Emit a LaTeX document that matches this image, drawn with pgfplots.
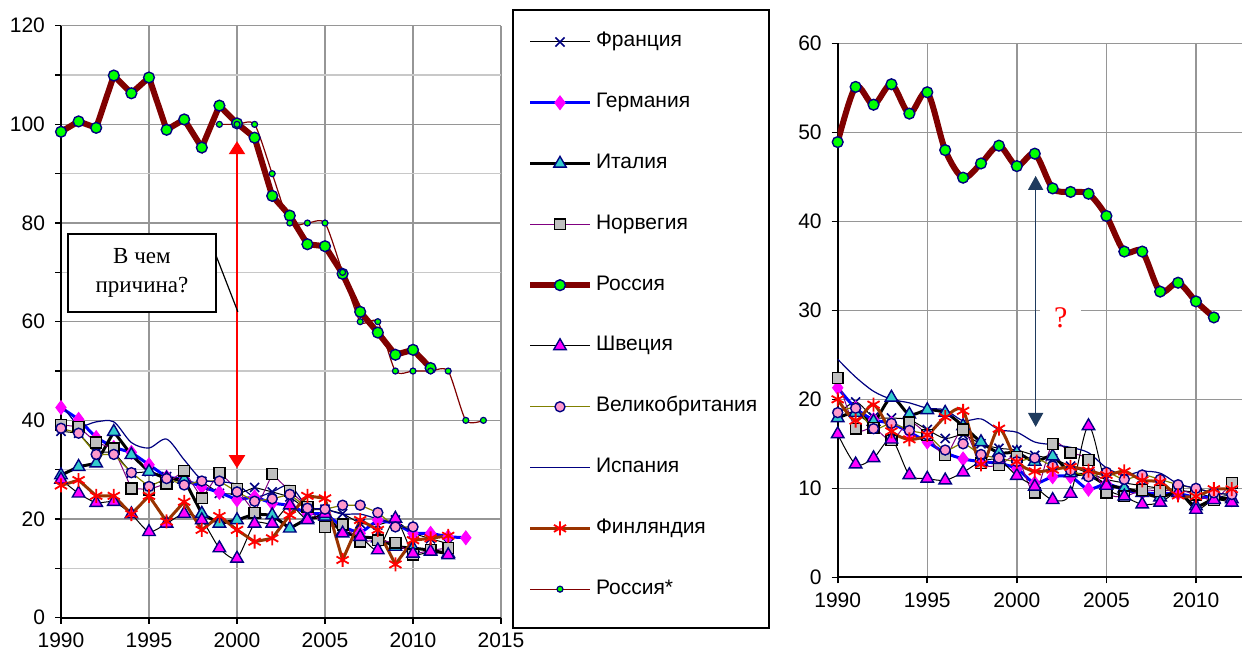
\documentclass[border=0pt]{standalone}
\usepackage{fontspec}
\setmainfont{Liberation Sans}
\newfontfamily\serifru{Liberation Serif}
\usepackage{pgfplots}
\usepackage{pgfplotstable}
\pgfplotsset{compat=1.18}
\usetikzlibrary{arrows.meta}

\definecolor{exnavy}{HTML}{000080}
\definecolor{exblue}{HTML}{0000FF}
\definecolor{exmag}{HTML}{FF00FF}
\definecolor{exteal}{HTML}{33CCCC}
\definecolor{exgray}{HTML}{C0C0C0}
\definecolor{expurple}{HTML}{800080}
\definecolor{exdred}{HTML}{800000}
\definecolor{exgreen}{HTML}{00FF00}
\definecolor{exolive}{HTML}{808000}
\definecolor{expink}{HTML}{FF99CC}
\definecolor{exbrown}{HTML}{993300}
\definecolor{exred}{HTML}{FF0000}
\definecolor{gridgray}{HTML}{969696}
\definecolor{gridlight}{HTML}{C8C8C8}
\definecolor{arrowblue}{HTML}{1F3B5E}

\pgfplotstableread{
year FR DE IT NO RU SE UK ES FI RUS
1990 37.8 42.6 28.9 39.1 98.5 28.0 38.4 43.5 26.8 nan
1991 37.4 40.2 30.6 38.7 100.6 25.2 37.4 39.0 27.9 nan
1992 33.5 36.5 31.3 35.5 99.3 23.3 33.1 39.7 24.7 nan
1993 33.6 34.5 37.7 34.3 109.9 23.5 33.1 39.7 24.7 nan
1994 29.3 33.5 33.0 26.2 106.3 21.0 29.4 35.5 21.0 nan
1995 29.6 31.0 29.6 26.0 109.5 17.4 26.6 34.4 24.7 nan
1996 28.6 28.5 28.2 27.2 98.9 19.1 28.2 36.2 19.5 nan
1997 27.2 28.0 28.0 29.8 101.0 21.1 26.9 32.0 23.5 nan
1998 27.6 26.5 21.1 24.2 95.3 19.8 27.7 28.0 17.8 nan
1999 25.2 25.4 19.1 29.4 103.8 14.1 27.7 27.6 20.6 100
2000 25.0 23.9 19.8 26.1 100.2 12.0 25.5 27.0 17.8 100
2001 26.4 24.5 21.0 21.3 97.3 19.1 23.6 24.5 15.4 100
2002 25.5 23.2 20.8 29.1 85.5 19.1 24.1 25.5 16.1 90
2003 24.5 22.8 18.1 25.7 81.5 22.8 25.0 26.8 20.8 80
2004 21.8 21.1 20.1 22.5 75.7 19.8 22.2 22.5 24.7 80
2005 22.0 21.1 20.5 18.4 75.3 21.1 22.0 22.0 24.2 80
2006 21.1 18.4 17.4 18.9 69.7 17.1 22.8 21.0 11.7 70
2007 19.1 17.1 16.4 15.4 62.0 16.4 22.8 21.0 19.8 60
2008 18.8 19.8 16.1 15.7 57.8 13.7 21.3 20.0 17.8 60
2009 19.8 19.1 14.4 15.2 53.3 20.1 18.4 19.0 10.8 50
2010 17.1 17.1 14.1 12.8 54.3 13.0 18.4 17.5 15.7 50
2011 16.0 17.1 13.7 13.7 50.6 13.4 nan nan 16.1 50
2012 15.0 16.4 13.0 14.1 nan 12.7 nan nan 16.6 50
2013 nan 16.2 nan nan nan nan nan nan nan 40
2014 nan nan nan nan nan nan nan nan nan 40
}\tabL

\pgfplotstableread{
year FR DE IT NO RU SE UK ES FI
1990 18.3 21.3 17.9 22.4 48.9 16.1 18.5 24.5 20.0
1991 19.7 19.0 18.5 16.7 55.1 12.7 19.0 22.5 17.6
1992 18.0 17.7 17.5 16.8 53.1 13.4 16.7 20.9 19.4
1993 17.9 17.3 20.2 15.4 55.4 15.5 17.3 20.0 16.4
1994 17.7 16.3 18.3 17.4 52.1 11.5 16.5 19.6 15.5
1995 16.6 15.2 18.8 16.0 54.5 11.1 16.0 19.0 16.0
1996 15.6 14.0 18.5 13.7 48.0 10.9 14.3 18.8 18.0
1997 16.0 13.3 17.0 16.6 44.9 11.8 15.0 17.6 18.7
1998 15.0 13.0 15.2 12.8 46.5 13.0 13.8 17.8 12.7
1999 14.5 12.8 14.0 12.6 48.5 13.2 13.4 16.6 16.7
2000 14.3 12.2 14.0 13.5 46.2 11.4 13.0 16.3 13.0
2001 13.7 10.6 13.0 9.5 47.6 10.2 13.4 15.2 11.9
2002 13.3 11.3 13.6 15.0 43.7 8.7 12.5 14.9 12.1
2003 12.5 11.3 11.7 14.0 43.3 9.4 12.0 14.6 12.4
2004 11.7 9.9 11.5 13.2 43.1 17.0 11.3 14.0 12.0
2005 11.0 10.5 10.4 9.5 40.6 10.3 11.8 12.3 11.5
2006 10.6 9.8 10.0 9.1 36.6 9.1 11.0 11.5 11.9
2007 10.3 9.5 9.5 9.8 36.6 8.2 11.5 11.9 10.9
2008 10.0 9.4 9.0 9.7 32.1 8.4 11.0 11.7 10.7
2009 9.8 9.4 9.5 9.8 33.1 9.5 10.4 10.5 9.2
2010 9.5 9.0 8.0 9.3 31.0 7.6 10.0 10.0 9.1
2011 9.0 9.0 8.8 8.7 29.2 8.7 9.5 9.5 9.9
2012 9.3 8.7 8.8 10.6 nan 8.4 9.3 9.3 9.9
}\tabR

\pgfplotsset{
  sFR/.style={black, line width=0.5pt, mark=x, mark size=3.2pt, mark options={solid, draw=exnavy, line width=0.8pt}},
  sDE/.style={exblue, line width=1.5pt, mark=diamond*, mark size=3.5pt, mark options={solid, fill=exmag, draw=exmag, line width=0.4pt}},
  sIT/.style={black, line width=1.5pt, mark=triangle*, mark size=3.6pt, mark options={solid, fill=exteal, draw=exnavy, line width=0.7pt}},
  sNO/.style={expurple, line width=0.5pt, mark=square*, mark size=2.7pt, mark options={solid, fill=exgray, draw=black, line width=0.7pt}},
  sRU/.style={exdred, line width=3pt, mark=*, mark size=2.7pt, mark options={solid, fill=exgreen, draw=exnavy, line width=0.7pt}},
  sSE/.style={black, line width=0.5pt, mark=triangle*, mark size=3.6pt, mark options={solid, fill=exmag, draw=exnavy, line width=0.7pt}},
  sUK/.style={exolive, line width=0.6pt, mark=*, mark size=2.5pt, mark options={solid, fill=expink, draw=exnavy, line width=0.7pt}},
  sES/.style={exnavy, line width=0.6pt, no markers},
  sFI/.style={exbrown, line width=1.5pt, mark=asterisk, mark size=3.5pt, mark options={solid, draw=exred, line width=0.9pt}},
  sRUS/.style={exdred, line width=0.6pt, mark=*, mark size=1.5pt, mark options={solid, fill=exgreen, draw=exnavy, line width=0.6pt}},
  baseax/.style={
    scale only axis,
    axis x line*=bottom, axis y line*=left,
    axis line style={line width=0.9pt, black, -},
    major grid style={line width=0.75pt, color=gridgray},
    minor grid style={line width=0.75pt, color=gridlight},
    tick align=outside,
    major tick length=3pt, minor tick length=3pt,
    every tick/.style={black, line width=0.8pt},
    tick label style={font=\fontsize{10.5}{12}\selectfont},
    /pgf/number format/assume math mode=true,
    xticklabel style={/pgf/number format/1000 sep={}, yshift=-1pt},
    yticklabel style={xshift=-1.5pt},
    clip mode=global,
  },
}

\begin{document}
\begin{tikzpicture}
\useasboundingbox (0,0) rectangle (621pt,326.5pt);

\begin{axis}[baseax,
  at={(30.5pt,17.65pt)}, anchor=south west,
  width=220pt, height=296pt,
  xmin=1990, xmax=2015, ymin=0, ymax=120,
  xtick={1990,1995,...,2015}, ytick={0,20,...,120},
  minor y tick num=1,
  grid=both,
  legend image code/.code={\draw[mark repeat=2,mark phase=2,#1] plot coordinates {(0pt,0pt) (15pt,0pt) (30pt,0pt)};},
  legend cell align=left,
  legend style={at={(axis description cs:1.0591,0.9894)}, anchor=north west,
    draw=none, fill=none, inner sep=0pt, outer sep=0pt,
    row sep=20.4pt,
    nodes={inner xsep=1.5pt, inner ysep=0pt, text height=7.5pt, text depth=2.5pt,
      font=\fontsize{10.5}{12}\selectfont}},
]
\addplot[sFR] table[x=year,y=FR] \tabL; \addlegendentry{Франция}
\addplot[sDE] table[x=year,y=DE] \tabL; \addlegendentry{Германия}
\addplot[sIT] table[x=year,y=IT] \tabL; \addlegendentry{Италия}
\addplot[sNO] table[x=year,y=NO] \tabL; \addlegendentry{Норвегия}
\addplot[sRU] table[x=year,y=RU] \tabL; \addlegendentry{Россия}
\addplot[sSE, smooth, tension=0.4] table[x=year,y=SE] \tabL; \addlegendentry{Швеция}
\addplot[sUK] table[x=year,y=UK] \tabL; \addlegendentry{Великобритания}
\addplot[sES, smooth, tension=0.5] table[x=year,y=ES] \tabL; \addlegendentry{Испания}
\addplot[sFI] table[x=year,y=FI] \tabL; \addlegendentry{Финляндия}
\addplot[sRUS, smooth, tension=0.4] table[x=year,y=RUS] \tabL; \addlegendentry{Россия*}

\draw[exred, line width=1pt, {Triangle[width=8pt,length=6.5pt]}-{Triangle[width=8pt,length=6.5pt]}] (axis cs:2000,96.6) -- (axis cs:2000,30.3);
\draw[black, line width=0.6pt] (axis cs:1998.8,73.5) -- (axis cs:2000.05,62);
\node[draw, line width=0.75pt, fill=white, minimum width=74pt, minimum height=39pt, align=center,
  font=\serifru\fontsize{11.5}{14.5}\selectfont, inner sep=0pt] at (axis cs:1994.6,69.85) {В чем\\причина?};
\end{axis}

\draw[line width=0.9pt] (256.5pt,12.5pt) rectangle (384.5pt,321.5pt);

\begin{axis}[baseax,
  at={(418.85pt,37.85pt)}, anchor=south west,
  width=202.15pt, height=267pt,
  xmin=1990, xmax=2012.57, ymin=0, ymax=60,
  xtick={1990,1995,...,2010}, ytick={0,10,...,60},
  grid=major,
]
\addplot[sFR, smooth, tension=0.5] table[x=year,y=FR] \tabR;
\addplot[sDE, smooth, tension=0.5] table[x=year,y=DE] \tabR;
\addplot[sIT, smooth, tension=0.5] table[x=year,y=IT] \tabR;
\addplot[sNO, smooth, tension=0.5] table[x=year,y=NO] \tabR;
\addplot[sRU, smooth, tension=0.5] table[x=year,y=RU] \tabR;
\addplot[sSE, smooth, tension=0.5] table[x=year,y=SE] \tabR;
\addplot[sUK, smooth, tension=0.5] table[x=year,y=UK] \tabR;
\addplot[sES, smooth, tension=0.5] table[x=year,y=ES] \tabR;
\addplot[sFI, smooth, tension=0.5] table[x=year,y=FI] \tabR;

\draw[arrowblue, line width=0.8pt, {Triangle[width=7.5pt,length=7pt]}-{Triangle[width=7.5pt,length=7pt]}] (axis cs:2001.05,45.1) -- (axis cs:2001.05,16.9);
\node[fill=white, text=exred, font=\serifru\fontsize{15}{17}\selectfont, inner xsep=7pt, inner ysep=1pt] at (axis cs:2002.45,29.2) {?};
\end{axis}
\end{tikzpicture}
\end{document}
